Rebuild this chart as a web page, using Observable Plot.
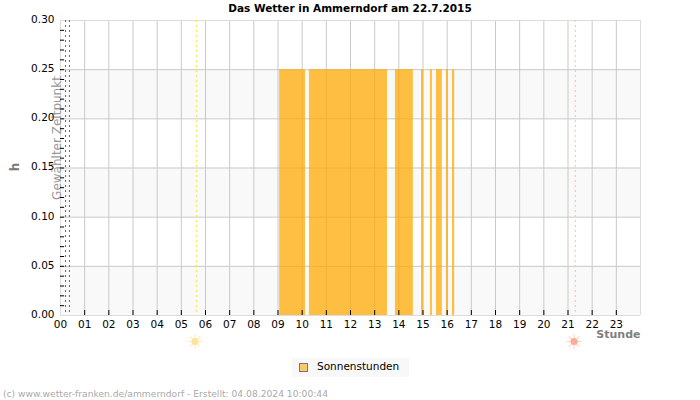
<!DOCTYPE html>
<html>
<head>
<meta charset="utf-8">
<script src="https://cdn.jsdelivr.net/npm/d3@7"></script>
<script src="https://cdn.jsdelivr.net/npm/@observablehq/plot@0.6"></script>
<style>
  html, body { margin: 0; padding: 0; background: #fff; }
  #chart { position: relative; width: 700px; height: 400px; font-family: "DejaVu Sans", sans-serif; overflow: hidden; }
  #chart svg { position: absolute; left: 0; top: 0; }
  .title { position: absolute; left: 0; width: 700px; top: 2px; text-align: center; font-size: 10.5px; font-weight: bold; color: #000; }
  .legend { position: absolute; left: 292px; top: 358px; width: 117px; height: 19px; background: #f8f8f8; font-size: 10.5px; color: #000; }
  .legend i { position: absolute; left: 7px; top: 5px; width: 7px; height: 7px; background: #fdc86a; border: 1px solid #777; }
  .legend span { position: absolute; left: 25px; top: 2px; }
  .credit { position: absolute; left: 3px; top: 388px; font-size: 9.17px; color: #aaa; white-space: nowrap; }
</style>
</head>
<body>
<div id="chart">
  <div class="title">Das Wetter in Ammerndorf am 22.7.2015</div>
  <div class="legend"><i></i><span>Sonnenstunden</span></div>
  <div class="credit">(c) www.wetter-franken.de/ammerndorf - Erstellt: 04.08.2024 10:00:44</div>
</div>
<script>
// Sunshine intervals of the day, in decimal hours
const sunStart = [9.07, 10.30, 13.86, 14.94, 15.31, 15.56, 15.97, 16.22];
const sunEnd   = [10.14, 13.53, 14.60, 15.03, 15.39, 15.80, 16.05, 16.31];
const sunValue = 0.25;

const hours = d3.range(0, 24);
const hourLabels = hours.map(h => String(h).padStart(2, "0"));
const yTicks = [0, 0.05, 0.10, 0.15, 0.20, 0.25, 0.30];
const yMinor = d3.range(1, 30).map(i => i / 100);
const bandStart = [0, 0.10, 0.20];
const bandEnd = [0.05, 0.15, 0.25];

const selectedTimes = [0.21, 0.37];
const sunrise = 5.62;
const sunset = 21.30;
const iconRow = -0.0265;
const rayAngles = d3.range(0, 360, 45);

const sunStyle = [
  {hour: sunrise, core: "#fde49c", ray: "#fdeab5", line: "#ffe81a"},
  {hour: sunset, core: "#ffab96", ray: "#ffcfc3", line: "#f6c48c"}
];

const spans = sunStart.map((s, i) => ({s, e: sunEnd[i]}));
const bands = bandStart.map((b, i) => ({b, e: bandEnd[i]}));
const rays = sunStyle.flatMap(d => rayAngles.map(a => ({hour: d.hour, a, ray: d.ray})));

const plot = Plot.plot({
  width: 700,
  height: 400,
  marginLeft: 60,
  marginRight: 60,
  marginTop: 20,
  marginBottom: 85,
  style: {background: "transparent", fontFamily: "DejaVu Sans, sans-serif", fontSize: "10.5px", overflow: "visible"},
  x: {domain: [0, 24], axis: null},
  y: {domain: [0, 0.30], axis: null},
  marks: [
    // alternating horizontal bands
    Plot.rectY(bands, {x1: 0, x2: 24, y1: "b", y2: "e", fill: "#f9f9f9"}),

    // grid
    Plot.ruleX(hours.slice(1), {stroke: "#c9c9c9", strokeWidth: 1}),
    Plot.ruleY(yTicks.slice(1, -1), {stroke: "#c9c9c9", strokeWidth: 1}),

    // sunshine intervals
    Plot.rectY(spans, {x1: "s", x2: "e", y1: 0, y2: sunValue, fill: "#fda900", fillOpacity: 0.74}),

    // frame
    Plot.ruleX([0, 24], {stroke: "#dcdcdc", strokeWidth: 1}),
    Plot.ruleY([0, 0.30], {stroke: "#dcdcdc", strokeWidth: 1}),

    // sunrise and sunset markers
    Plot.ruleX(sunStyle, {x: "hour", stroke: "line", strokeWidth: 1, strokeDasharray: "2 3"}),
    Plot.vector(rays, {x: "hour", y: iconRow, dx: -1.2, rotate: "a", length: 7, anchor: "start", stroke: "ray", strokeWidth: 1, shape: {draw(c, l) { c.moveTo(0, -3.5); c.lineTo(0, -l); }}}),
    Plot.dot(sunStyle, {x: "hour", y: iconRow, dx: -1.2, r: 3.5, fill: "core"}),

    // selected time
    Plot.ruleX(selectedTimes, {stroke: "#666", strokeWidth: 1, strokeDasharray: "2 3"}),
    Plot.text(["Gewählter Zeitpunkt"], {frameAnchor: "left", textAnchor: "middle", dx: -3, dy: -30, rotate: -90, fill: "#999", fontSize: 12}),

    // y axis with minor ticks
    Plot.ruleY(yMinor, {x1: 0, x2: 0.17, stroke: "#000", strokeWidth: 1}),
    Plot.text(yTicks, {x: 0, y: d => d, text: d => d.toFixed(2), textAnchor: "end", dx: -6, dy: -1, fill: "#000", fontSize: 10.5}),
    Plot.text(["h"], {frameAnchor: "left", textAnchor: "middle", dx: -45, dy: -1, rotate: -90, fill: "#777", fontSize: 12, fontWeight: "bold"}),

    // x axis
    Plot.ruleX(hours.slice(1), {y1: 0, y2: 0.005, stroke: "#000", strokeWidth: 1}),
    Plot.text(hours, {x: d => d, y: 0, text: d => hourLabels[d], dy: 9, fill: "#000", fontSize: 10.5}),
    Plot.text(["Stunde"], {frameAnchor: "bottom-right", dy: 22, textAnchor: "end", fill: "#808080", fontSize: 11, fontWeight: "bold"})
  ]
});
document.getElementById("chart").prepend(plot);
</script>
</body>
</html>
